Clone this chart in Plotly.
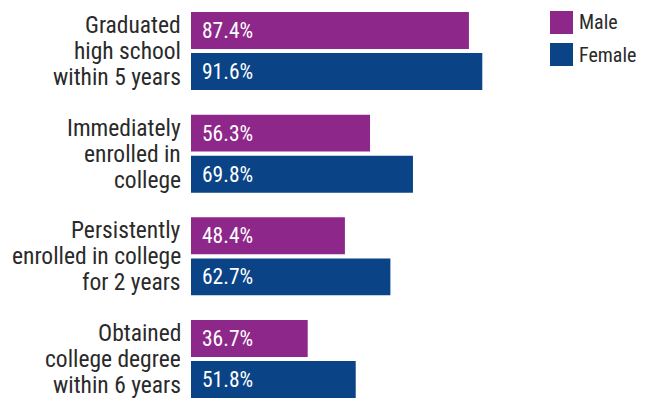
import plotly.graph_objects as go

# Outcome categories, one line per entry of each label
categories = [
    ["Graduated", "high school", "within 5 years"],
    ["Immediately", "enrolled in", "college"],
    ["Persistently", "enrolled in college", "for 2 years"],
    ["Obtained", "college degree", "within 6 years"],
]
male = [87.4, 56.3, 48.4, 36.7]
female = [91.6, 69.8, 62.7, 51.8]
series_names = ["Male", "Female"]
colors = ["#8E278A", "#0A4386"]

FONT = "Roboto Condensed, Liberation Sans Narrow, Arial Narrow, sans-serif"
TEXT = "#2a2a2a"

pos = list(range(len(categories)))
bar_w = 0.36

fig = go.Figure()
for name, vals, col, off in [
    (series_names[0], male, colors[0], -0.38),
    (series_names[1], female, colors[1], 0.02),
]:
    fig.add_trace(go.Bar(
        x=vals, y=pos, orientation="h", name=name,
        marker=dict(color=col, line=dict(width=0)),
        width=bar_w, offset=off, showlegend=False, hoverinfo="skip",
    ))
    # value labels inside each bar, left aligned
    for p, v in zip(pos, vals):
        fig.add_annotation(
            x=0, y=p + off + bar_w / 2, xref="x", yref="y",
            text=f"{v}%", showarrow=False, xanchor="left", yanchor="middle",
            xshift=9, font=dict(family=FONT, size=21.5, color="white", weight=400),
        )

# multi-line category labels to the left of the bars
line_step = 26
for p, lines in zip(pos, categories):
    n = len(lines)
    for i, line in enumerate(lines):
        fig.add_annotation(
            x=0, y=p, xref="x", yref="y", text=line, showarrow=False,
            xanchor="right", yanchor="middle", xshift=-8, height=line_step,
            yshift=-(i - (n - 1) / 2) * line_step,
            font=dict(family=FONT, size=23.5, color=TEXT, weight=400),
        )

# legend: square swatches with labels
for k, (name, col) in enumerate(zip(series_names, colors)):
    top = 11 + k * 32
    fig.add_shape(
        type="rect", xref="paper", yref="paper",
        x0=(550 - 191) / 318, x1=(573 - 191) / 318,
        y0=1 - top / 398, y1=1 - (top + 23) / 398,
        fillcolor=col, line=dict(width=0),
    )
    fig.add_annotation(
        x=(577 - 191) / 318, y=1 - (top + 11.5) / 398, xref="paper", yref="paper",
        text=name, showarrow=False, xanchor="left", yanchor="middle",
        font=dict(family=FONT, size=20, color=TEXT, weight=400),
    )

fig.update_layout(
    width=646, height=398,
    margin=dict(l=191, r=137, t=0, b=0),
    paper_bgcolor="white", plot_bgcolor="white",
    barmode="overlay",
    xaxis=dict(range=[0, 100], visible=False, fixedrange=True),
    yaxis=dict(range=[3.38, -0.497], visible=False, fixedrange=True),
)

fig.write_html("out.html")
